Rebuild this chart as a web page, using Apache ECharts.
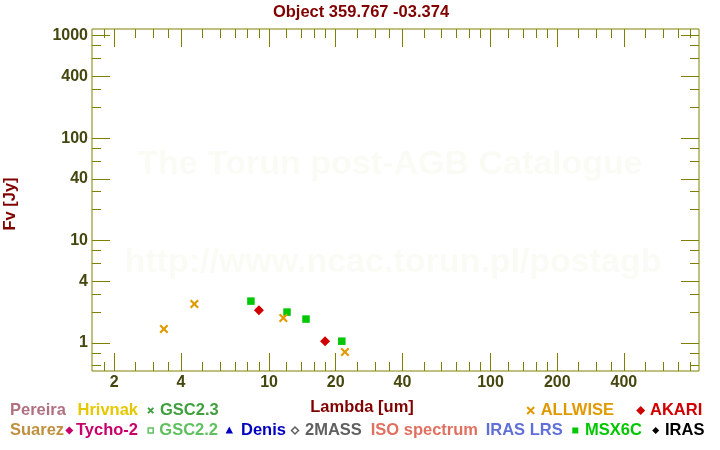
<!DOCTYPE html>
<html>
<head>
<meta charset="utf-8">
<script src="https://cdn.jsdelivr.net/npm/echarts@6/dist/echarts.min.js"></script>
<style>html,body{margin:0;padding:0;background:#fff}#c{width:720px;height:450px}</style>
</head>
<body>
<div id="c"></div>
<script>
// ---- data (wavelength in um, flux in Jy) ----
const allwiseLambda = [3.35, 4.6, 11.6, 22.0];
const allwiseFlux   = [1.37, 2.40, 1.75, 0.815];
const akariLambda   = [9.0, 17.9];
const akariFlux     = [2.09, 1.04];
const msxLambda     = [8.28, 12.05, 14.68, 21.3];
const msxFlux       = [2.56, 2.0, 1.71, 1.04];

// ---- axes ----
const xRange = [1.587, 873];
const yRange = [0.532, 1162];
const xLabelVals = [2, 4, 10, 20, 40, 100, 200, 400];
const xMinorVals = [1.8, 2.5, 3, 3.5, 5, 6, 7, 8, 9, 12, 14, 16, 18, 25, 30, 35, 50, 60, 70, 80, 90, 120, 140, 160, 180, 250, 300, 350, 500, 600, 700, 800];
const yLabelVals = [1, 4, 10, 40, 100, 400, 1000];
const yMinorVals = [0.6, 0.8, 2, 3, 6, 8, 20, 30, 60, 80, 200, 300, 600, 800];

const titleText = 'Object 359.767 -03.374';
const xTitle = 'Lambda [um]';
const yTitle = 'Fv [Jy]';

const L = Math.log10;
const OLIVE = '#808000';
const LABEL = '#46460f';
const DARKRED = '#800000';
const FONT = '"Liberation Sans", Arial, sans-serif';

function pts(xs, ys) { return xs.map((x, i) => [L(x), L(ys[i])]); }
function fmt(v) { const n = Math.pow(10, v); return String(Math.round(n)); }

const gridBox = { left: 92, right: 21, top: 29, bottom: 79 };
const grids = [0,1,2,3].map(i => Object.assign({}, gridBox, i === 0 ? {show: true, borderColor: OLIVE, borderWidth: 1, backgroundColor: 'transparent'} : {}));

function xAx(gi, pos, vals, len, labels) {
  return {
    type: 'value', gridIndex: gi, position: pos, min: L(xRange[0]), max: L(xRange[1]),
    axisLine: {show: false, onZero: false}, splitLine: {show: false},
    axisTick: {show: true, inside: true, length: len, customValues: vals.map(L), lineStyle: {color: OLIVE, width: 1}},
    axisLabel: labels ? {show: true, customValues: vals.map(L), formatter: fmt, color: LABEL, fontSize: 16, fontWeight: 'bold', fontFamily: FONT, margin: 4} : {show: false}
  };
}
function yAx(gi, pos, vals, len, labels) {
  return {
    type: 'value', gridIndex: gi, position: pos, min: L(yRange[0]), max: L(yRange[1]),
    axisLine: {show: false, onZero: false}, splitLine: {show: false},
    axisTick: {show: true, inside: true, length: len, customValues: vals.map(L), lineStyle: {color: OLIVE, width: 1}},
    axisLabel: labels ? {show: true, customValues: vals.map(L), formatter: fmt, color: LABEL, fontSize: 16, fontWeight: 'bold', fontFamily: FONT, margin: 4} : {show: false}
  };
}

const xAxes = [
  xAx(0, 'bottom', xLabelVals, 18, true),
  xAx(1, 'bottom', xMinorVals, 9, false),
  xAx(2, 'top', xLabelVals, 18, false),
  xAx(3, 'top', xMinorVals, 9, false)
];
const yAxes = [
  yAx(0, 'left', yLabelVals, 18, true),
  yAx(1, 'left', yMinorVals, 9, false),
  yAx(2, 'right', yLabelVals, 18, false),
  yAx(3, 'right', yMinorVals, 9, false)
];

const xPath = 'path://M0,1.7L1.7,0L5,3.3L8.3,0L10,1.7L6.7,5L10,8.3L8.3,10L5,6.7L1.7,10L0,8.3L3.3,5Z';

const series = [
  {name: 'MSX6C', type: 'scatter', data: pts(msxLambda, msxFlux), symbol: 'rect', symbolSize: 7.5, itemStyle: {color: '#00c800', opacity: 1}, xAxisIndex: 0, yAxisIndex: 0, z: 5},
  {name: 'AKARI', type: 'scatter', data: pts(akariLambda, akariFlux), symbol: 'diamond', symbolSize: [10, 10], itemStyle: {color: '#d00000', opacity: 1}, xAxisIndex: 0, yAxisIndex: 0, z: 6},
  {name: 'ALLWISE', type: 'scatter', data: pts(allwiseLambda, allwiseFlux), symbol: xPath, symbolSize: 9, itemStyle: {color: '#e09a00', opacity: 1}, xAxisIndex: 0, yAxisIndex: 0, z: 7}
];

function txt(t, x, y, color, opts) {
  return Object.assign({type: 'text', silent: true, style: {text: t, x: x, y: y, fill: color, font: 'bold 16.5px ' + FONT, textVerticalAlign: 'middle', textAlign: 'left'}}, opts || {});
}
function cross(cx, cy, s, color) {
  return {type: 'group', silent: true, children: [
    {type: 'line', shape: {x1: cx - s, y1: cy - s, x2: cx + s, y2: cy + s}, style: {stroke: color, lineWidth: 2}},
    {type: 'line', shape: {x1: cx - s, y1: cy + s, x2: cx + s, y2: cy - s}, style: {stroke: color, lineWidth: 2}}
  ]};
}
function diamond(cx, cy, s, color, fill) {
  return {type: 'polygon', silent: true, shape: {points: [[cx, cy - s], [cx + s, cy], [cx, cy + s], [cx - s, cy]]},
    style: fill ? {fill: color} : {fill: '#fff', stroke: color, lineWidth: 1.5}};
}

const r1 = 410.5, r2 = 430.5;
const graphic = [
  // watermark
  {type: 'text', silent: true, z: -10, style: {text: 'The Torun post-AGB Catalogue', x: 390, y: 165, fill: '#fbfbf6', font: 'bold 34px ' + FONT, textAlign: 'center', textVerticalAlign: 'middle'}},
  {type: 'text', silent: true, z: -10, style: {text: 'http://www.ncac.torun.pl/postagb', x: 393, y: 263, fill: '#fbfbf6', font: 'bold 34px ' + FONT, textAlign: 'center', textVerticalAlign: 'middle'}},
  // title & axis names
  {type: 'text', silent: true, style: {text: titleText, x: 361, y: 12, fill: DARKRED, font: 'bold 16.5px ' + FONT, textAlign: 'center', textVerticalAlign: 'middle'}},
  {type: 'text', silent: true, style: {text: xTitle, x: 362, y: 407, fill: DARKRED, font: 'bold 16.5px ' + FONT, textAlign: 'center', textVerticalAlign: 'middle'}},
  {type: 'text', silent: true, x: 10, y: 204, rotation: Math.PI / 2, style: {text: yTitle, x: 0, y: 0, fill: DARKRED, font: 'bold 16.5px ' + FONT, textAlign: 'center', textVerticalAlign: 'middle'}},
  // legend row 1
  txt('Pereira', 10, r1, '#b07080'),
  txt('Hrivnak', 77.5, r1, '#e6c800'),
  cross(150.7, r1, 2.6, '#40a040'),
  txt('GSC2.3', 160, r1, '#40a040'),
  cross(530.7, r1, 3.5, '#e09a00'),
  txt('ALLWISE', 540.7, r1, '#e09a00'),
  diamond(640.7, r1, 4.5, '#d00000', true),
  txt('AKARI', 650, r1, '#d00000'),
  // legend row 2
  txt('Suarez', 10, r2, '#c09040'),
  diamond(69.3, r2, 4, '#c8006a', true),
  txt('Tycho-2', 76, r2, '#c8006a'),
  {type: 'rect', silent: true, shape: {x: 148.2, y: r2 - 2.5, width: 5, height: 5}, style: {fill: '#fff', stroke: '#60c060', lineWidth: 1.5}},
  txt('GSC2.2', 159.3, r2, '#60c060'),
  {type: 'polygon', silent: true, shape: {points: [[229.3, r2 - 4], [233, r2 + 3], [225.6, r2 + 3]]}, style: {fill: '#0000c0'}},
  txt('Denis', 241, r2, '#0000c0'),
  diamond(295, r2, 3.5, '#606060', false),
  txt('2MASS', 305, r2, '#606060'),
  txt('ISO spectrum', 370.7, r2, '#e07060'),
  txt('IRAS LRS', 485.7, r2, '#6070d8'),
  {type: 'rect', silent: true, shape: {x: 572.3, y: r2 - 3, width: 6, height: 6}, style: {fill: '#00c800'}},
  txt('MSX6C', 585, r2, '#00c800'),
  diamond(655.7, r2, 3.5, '#000000', true),
  txt('IRAS', 665, r2, '#000000')
];

const chart = echarts.init(document.getElementById('c'), null, {renderer: 'canvas'});
chart.setOption({
  animation: false,
  backgroundColor: '#ffffff',
  grid: grids,
  xAxis: xAxes,
  yAxis: yAxes,
  series: series,
  graphic: graphic
});
</script>
</body>
</html>
